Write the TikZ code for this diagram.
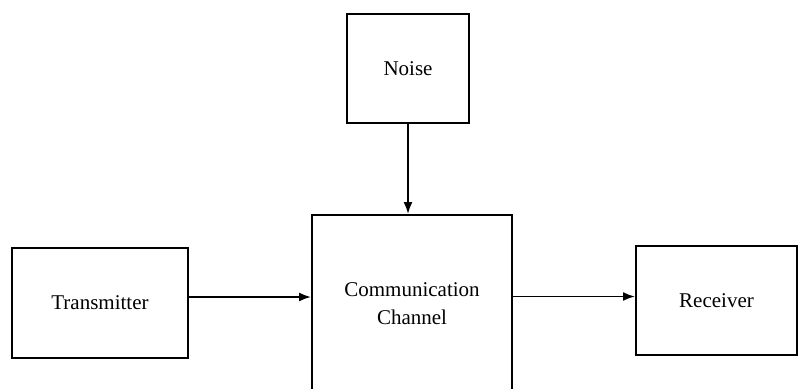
\documentclass[tikz,border=0pt]{standalone}
\usepackage{fontspec}
\setmainfont{Liberation Serif}
\usepackage{tikz}
\usetikzlibrary{calc,arrows.meta,positioning}
\tikzset{
  ar/.style={-{Latex[length=12pt,width=9pt]},line width=1.8pt,black},
  box/.style={draw=black,line width=2pt,align=center,inner sep=4pt,
    font=\fontsize{21}{28}\selectfont}
}

\begin{document}
\begin{tikzpicture}[x=1pt,y=-1pt]
\useasboundingbox (0,0) rectangle (799,388);
\clip (0,0) rectangle (799,388);
\node[box,minimum width=122,minimum height=109] (nz) at (408,68.5) {Noise};
\node[box,minimum width=200,minimum height=177] (ch) at (412,303.5) {Communication\\Channel};
\node[box,minimum width=176,minimum height=110] (tx) at (100,303) {Transmitter};
\node[box,minimum width=161,minimum height=109] (rx) at (716.5,300.5) {Receiver};
\draw[ar] (nz.south) -- (nz.south |- ch.north);
\draw[ar] ([yshift=6pt]tx.east) -- ([yshift=6pt]tx.east -| ch.west);
\draw[ar] ([yshift=4pt]rx.west -| ch.east) -- ([yshift=4pt]rx.west);
\end{tikzpicture}
\end{document}
